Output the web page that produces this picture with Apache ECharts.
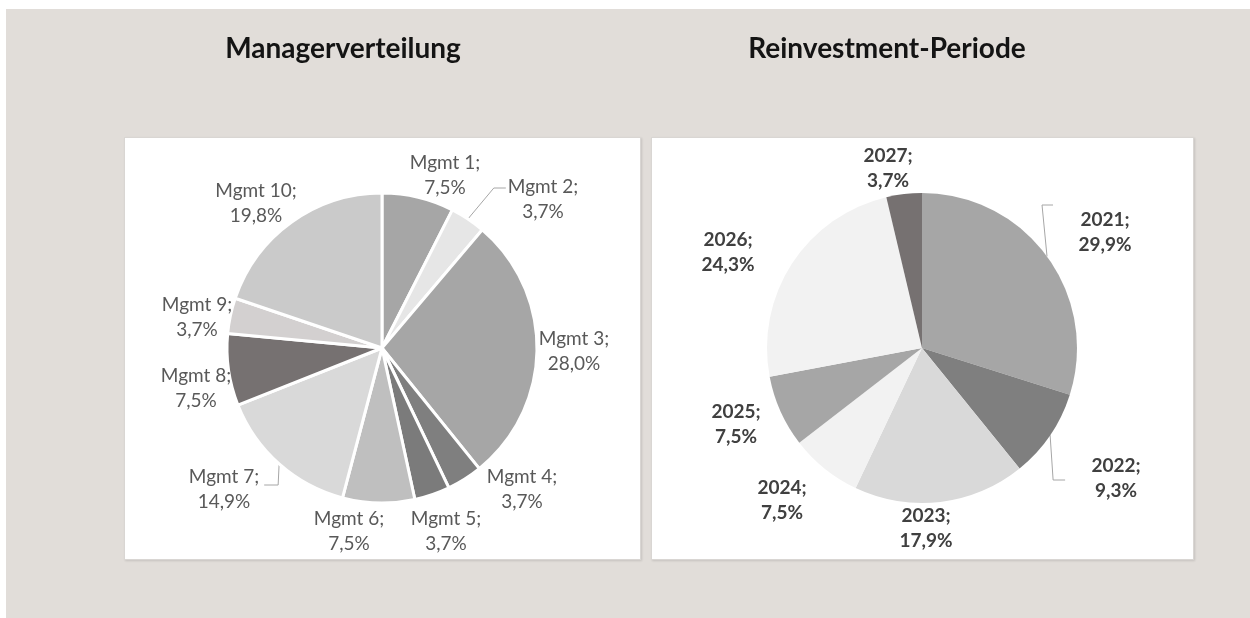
<!DOCTYPE html>
<html><head><meta charset="utf-8">
<script src="https://cdn.jsdelivr.net/npm/echarts@6/dist/echarts.min.js"></script>
<style>
html,body{margin:0;padding:0;background:#fff;width:1250px;height:618px;overflow:hidden}
#bg{position:absolute;left:6px;top:9px;right:0;bottom:0;background:#e1ddd9}
.box{position:absolute;background:#fff;box-shadow:1px 1px 2px rgba(0,0,0,0.12);border:1px solid #d9d6d3;box-sizing:border-box}
#chart{position:absolute;left:0;top:0;width:1250px;height:618px}
</style></head><body>
<div id="bg"></div>
<div class="box" style="left:124px;top:137px;width:517px;height:423px"></div>
<div class="box" style="left:651px;top:137px;width:543px;height:423px"></div>
<div id="chart"></div>
<script>
// ---- data ----
const chartTitles = ['Managerverteilung', 'Reinvestment-Periode'];
const managerCategories = ['Mgmt 1', 'Mgmt 2', 'Mgmt 3', 'Mgmt 4', 'Mgmt 5', 'Mgmt 6', 'Mgmt 7', 'Mgmt 8', 'Mgmt 9', 'Mgmt 10'];
const managerValues = [7.5, 3.7, 28.0, 3.7, 3.7, 7.5, 14.9, 7.5, 3.7, 19.8];
const periodCategories = ['2021', '2022', '2023', '2024', '2025', '2026', '2027'];
const periodValues = [29.9, 9.3, 17.9, 7.5, 7.5, 24.3, 3.7];

// ---- styles ----
const managerColors = ['#a6a6a6', '#e6e6e6', '#a6a6a6', '#7f7f7f', '#7b7b7b', '#bfbfbf', '#d9d9d9', '#767171', '#d3d0d0', '#cacaca'];
const periodColors = ['#a6a6a6', '#7f7f7f', '#d9d9d9', '#f2f2f2', '#a6a6a6', '#f2f2f2', '#767171'];

// ---- label layout (label anchor points, Excel-like manual placement) ----
const managerLabelPos = [[445, 175], [543, 199], [574, 351], [522, 489], [446, 531], [349, 531], [224, 489], [196, 388], [197, 317], [256, 203]];
const periodLabelPos = [[1105, 232], [1116, 478], [926, 528], [782, 500], [736, 424], [728, 252], [888, 168]];

// leader line shapes: start at the sector edge point given by ECharts, then an elbow relative to the label box
const leaderShapes = {
  'Mgmt 2': (s, r) => [s, [r.x - 14, r.y + 14], [r.x - 2, r.y + 14]],
  'Mgmt 7': (s, r) => [s, [s[0] - 1, r.y + 21], [r.x + r.width + 5, r.y + 21]],
  '2021': (s, r) => [s, [s[0] - 5, r.y - 2], [s[0] + 6, r.y - 2]],
  '2022': (s, r) => [s, [s[0] + 3, r.y + r.height / 2 + 2], [s[0] + 15, r.y + r.height / 2 + 2]]
};

function fmt(p) { return p.name + ';\n' + p.value.toFixed(1).replace('.', ',') + '%'; }

function buildData(cats, vals, colors) {
  return cats.map((c, i) => ({
    name: c, value: vals[i],
    itemStyle: { color: colors[i] },
    labelLine: { show: !!leaderShapes[c] }
  }));
}

function makeLayout(cats, pos) {
  return function (p) {
    const xy = pos[p.dataIndex];
    const out = { x: xy[0], y: xy[1], align: 'center', verticalAlign: 'middle' };
    const shape = leaderShapes[cats[p.dataIndex]];
    if (shape && p.labelLinePoints && p.labelLinePoints.length) {
      const w = p.labelRect.width, h = p.labelRect.height;
      const r = { x: xy[0] - w / 2, y: xy[1] - h / 2, width: w, height: h };
      out.labelLinePoints = shape(p.labelLinePoints[0], r);
    }
    return out;
  };
}

const chart = echarts.init(document.getElementById('chart'), null, { renderer: 'canvas' });
chart.setOption({
  animation: false,
  backgroundColor: 'transparent',
  graphic: [
    { type: 'text', x: 343, y: 49, style: { text: chartTitles[0], align: 'center', verticalAlign: 'middle', font: 'bold 28px Lato', fill: '#141414' } },
    { type: 'text', x: 887, y: 49, style: { text: chartTitles[1], align: 'center', verticalAlign: 'middle', font: 'bold 28px Lato', fill: '#141414' } }
  ],
  series: [
    {
      type: 'pie',
      center: [382, 348],
      radius: 155,
      startAngle: 90,
      clockwise: true,
      avoidLabelOverlap: false,
      itemStyle: { borderColor: '#ffffff', borderWidth: 3 },
      label: {
        show: true, position: 'outside', formatter: fmt,
        fontFamily: 'Lato', fontSize: 19, lineHeight: 25, color: '#595959', align: 'center'
      },
      labelLine: { show: false, length: 10, length2: 12, smooth: false, lineStyle: { color: '#a6a6a6', width: 1 } },
      labelLayout: makeLayout(managerCategories, managerLabelPos),
      emphasis: { disabled: true },
      data: buildData(managerCategories, managerValues, managerColors)
    },
    {
      type: 'pie',
      center: [922, 348],
      radius: 155,
      startAngle: 90,
      clockwise: true,
      avoidLabelOverlap: false,
      itemStyle: { borderWidth: 0 },
      label: {
        show: true, position: 'outside', formatter: fmt,
        fontFamily: 'Lato', fontSize: 19, fontWeight: 'bold', lineHeight: 25, color: '#404040', align: 'center'
      },
      labelLine: { show: false, length: 10, length2: 12, smooth: false, lineStyle: { color: '#a6a6a6', width: 1 } },
      labelLayout: makeLayout(periodCategories, periodLabelPos),
      emphasis: { disabled: true },
      data: buildData(periodCategories, periodValues, periodColors)
    }
  ]
});
</script>
</body></html>
